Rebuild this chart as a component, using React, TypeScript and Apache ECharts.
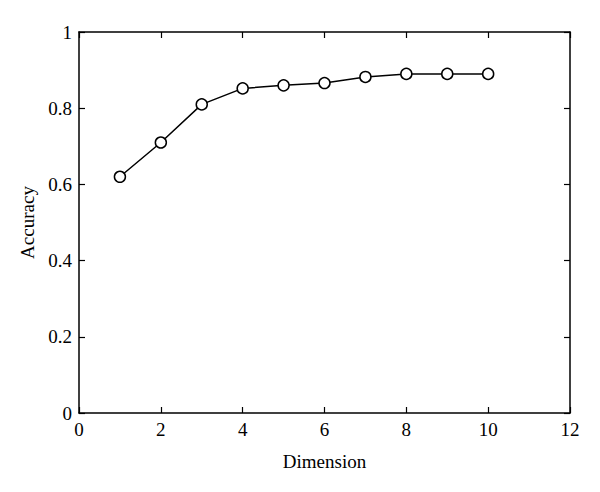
import React, { useEffect, useRef } from "react";
import * as echarts from "echarts";

const dimensions = [1, 2, 3, 4, 5, 6, 7, 8, 9, 10];
const accuracy = [0.62, 0.71, 0.81, 0.852, 0.86, 0.866, 0.882, 0.89, 0.89, 0.89];
const xTitle = "Dimension";
const yTitle = "Accuracy";

const FONT = "Liberation Serif";

export default function App() {
  const ref = useRef<HTMLDivElement>(null);
  useEffect(() => {
    if (!ref.current) return;
    const chart = echarts.init(ref.current, null, { renderer: "svg" });
    const axisLine = { show: true, onZero: false, lineStyle: { color: "#000", width: 1.5 } };
    const tickIn = { show: true, inside: true, length: 6, lineStyle: { color: "#000", width: 1.2 } };
    const labelStyle = { color: "#000", fontFamily: FONT, fontSize: 19 };
    chart.setOption({
      animation: false,
      backgroundColor: "#fff",
      grid: { left: 79, right: 30, top: 32, bottom: 79, containLabel: false },
      xAxis: [
        {
          type: "value",
          min: 0,
          max: 12,
          interval: 2,
          position: "bottom",
          name: xTitle,
          nameLocation: "middle",
          nameGap: 39,
          nameTextStyle: { color: "#000", fontFamily: FONT, fontSize: 19 },
          axisLine,
          axisTick: tickIn,
          axisLabel: { ...labelStyle, margin: 7 },
          splitLine: { show: false },
        },
        {
          type: "value",
          min: 0,
          max: 12,
          interval: 2,
          position: "top",
          axisLine,
          axisTick: tickIn,
          axisLabel: { show: false },
          splitLine: { show: false },
        },
      ],
      yAxis: [
        {
          type: "value",
          min: 0,
          max: 1,
          interval: 0.2,
          position: "left",
          name: yTitle,
          nameLocation: "middle",
          nameGap: 42,
          nameTextStyle: { color: "#000", fontFamily: FONT, fontSize: 19 },
          axisLine,
          axisTick: tickIn,
          axisLabel: { ...labelStyle, margin: 7, formatter: (v: number) => String(Math.round(v * 10) / 10) },
          splitLine: { show: false },
        },
        {
          type: "value",
          min: 0,
          max: 1,
          interval: 0.2,
          position: "right",
          axisLine,
          axisTick: tickIn,
          axisLabel: { show: false },
          splitLine: { show: false },
        },
      ],
      series: [
        {
          type: "line",
          data: dimensions.map((d, i) => [d, accuracy[i]]),
          symbol: "circle",
          symbolSize: 11,
          showAllSymbol: true,
          lineStyle: { color: "#000", width: 1.5 },
          itemStyle: { color: "#fff", borderColor: "#000", borderWidth: 1.5 },
          emphasis: { disabled: true },
        },
      ],
    });
    return () => chart.dispose();
  }, []);
  return <div ref={ref} style={{ width: 600, height: 492, position: "absolute", left: 0, top: 0 }} />;
}
